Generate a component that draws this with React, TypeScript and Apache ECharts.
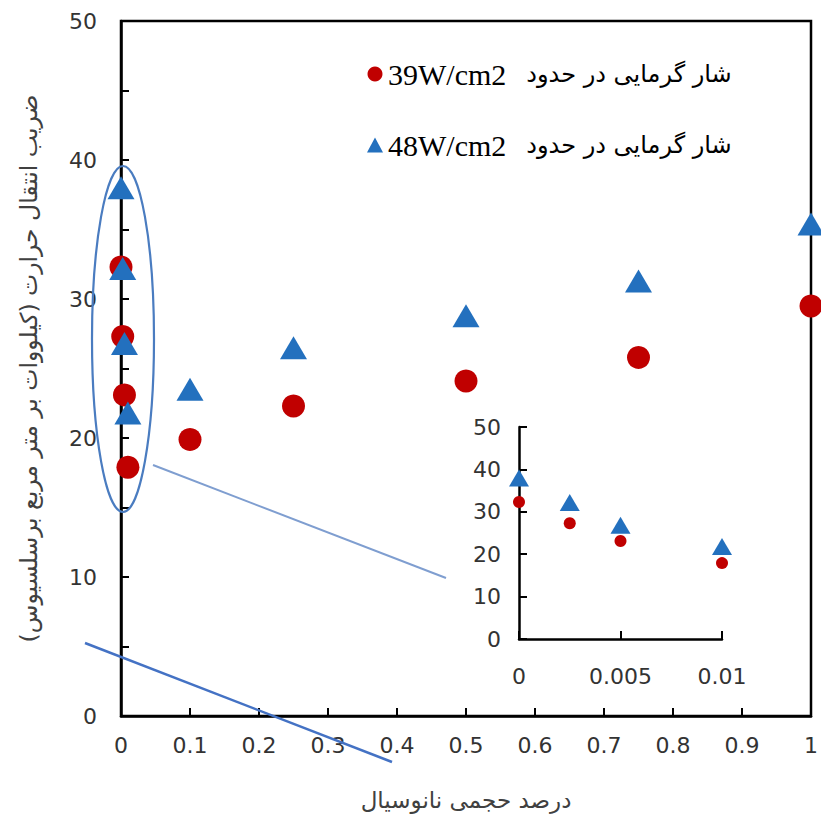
import React, { useEffect, useRef } from 'react';
import * as echarts from 'echarts';

// ---- data ----
const lowX = [0, 0.0025, 0.005, 0.01];
const highX = [0.1, 0.25, 0.5, 0.75, 1];
const flux39Low = [32.3, 27.3, 23.1, 17.9];
const flux39High = [19.9, 22.3, 24.1, 25.8, 29.5];
const flux48Low = [38.0, 32.2, 26.8, 21.8];
const flux48High = [23.5, 26.5, 28.8, 31.3, 35.4];
const fluxValues = ['39W/cm2', '48W/cm2'];
const fluxText = 'شار گرمایی در حدود';
const seriesNames = fluxValues.map((v) => v + '  ' + fluxText);
const yTitle = 'ضریب انتقال حرارت (کیلووات بر متر مربع برسلسیوس)\u200F';
const xTitle = 'درصد حجمی نانوسیال';

const RED = '#C00000';
const BLUE = '#2370BE';
const LABEL = '#333333';

function pairs(xs: number[], ys: number[]) {
  return xs.map((x, i) => [x, ys[i]]);
}

export default function App() {
  const ref = useRef<HTMLDivElement>(null);
  useEffect(() => {
    if (!ref.current) return;
    const chart = echarts.init(ref.current, null, { renderer: 'svg' });
    const tickLabel = { color: LABEL, fontFamily: 'DejaVu Sans', fontSize: 22 };
    chart.setOption({
      animation: false,
      backgroundColor: '#ffffff',
      legend: {
        orient: 'vertical',
        left: 362,
        top: 54,
        itemGap: 41,
        itemWidth: 16,
        itemHeight: 15,
        formatter: (name: string) => {
          const i = seriesNames.indexOf(name);
          return '{a|' + fluxValues[i] + '}{b|' + fluxText + '}';
        },
        textStyle: {
          color: '#000',
          rich: {
            a: { fontFamily: 'Liberation Serif', fontSize: 30, color: '#000', padding: [0, 20, 0, 0] },
            b: { fontFamily: 'DejaVu Sans', fontSize: 24, color: '#000' },
          },
        },
        data: [
          { name: seriesNames[0], icon: 'circle' },
          { name: seriesNames[1], icon: 'triangle' },
        ],
      },
      grid: [
        { left: 121, top: 21, right: 8, bottom: 103, show: true, borderColor: '#000', borderWidth: 2.5, backgroundColor: 'transparent' },
        { left: 519, top: 427, width: 203, height: 212 },
      ],
      xAxis: [
        {
          type: 'value', gridIndex: 0, min: 0, max: 1, interval: 0.1,
          name: xTitle, nameLocation: 'middle', nameGap: 72,
          nameTextStyle: { color: '#404040', fontFamily: 'DejaVu Sans', fontSize: 23 },
          axisLine: { lineStyle: { color: '#000', width: 2.5 } },
          axisTick: { inside: true, length: 8, lineStyle: { color: '#000', width: 2 } },
          axisLabel: { ...tickLabel, margin: 18 },
          splitLine: { show: false },
        },
        {
          type: 'value', gridIndex: 1, min: 0, max: 0.01, interval: 0.005,
          axisLine: { lineStyle: { color: '#000', width: 2.5 } },
          axisTick: { inside: true, length: 8, lineStyle: { color: '#000', width: 2 } },
          axisLabel: { ...tickLabel, margin: 26 },
          splitLine: { show: false },
        },
      ],
      yAxis: [
        {
          type: 'value', gridIndex: 0, min: 0, max: 50, interval: 5,
          name: yTitle, nameLocation: 'middle', nameGap: 80, nameRotate: 90,
          nameTextStyle: { color: '#404040', fontFamily: 'DejaVu Sans', fontSize: 23.5 },
          axisLine: { lineStyle: { color: '#000', width: 2.5 } },
          axisTick: { inside: true, length: 8, lineStyle: { color: '#000', width: 2 } },
          axisLabel: { ...tickLabel, margin: 24, formatter: (v: number) => (v % 10 === 0 ? String(v) : '') },
          splitLine: { show: false },
        },
        {
          type: 'value', gridIndex: 1, min: 0, max: 50, interval: 10,
          axisLine: { lineStyle: { color: '#000', width: 2.5 } },
          axisTick: { inside: true, length: 8, lineStyle: { color: '#000', width: 2 } },
          axisLabel: { ...tickLabel, margin: 18 },
          splitLine: { show: false },
        },
      ],
      series: [
        {
          name: seriesNames[0], type: 'scatter', xAxisIndex: 0, yAxisIndex: 0,
          symbol: 'circle', symbolSize: 23, itemStyle: { color: RED, opacity: 1 },
          data: pairs([...lowX, ...highX], [...flux39Low, ...flux39High]),
        },
        {
          name: seriesNames[1], type: 'scatter', xAxisIndex: 0, yAxisIndex: 0,
          symbol: 'triangle', symbolSize: [27, 23], itemStyle: { color: BLUE, opacity: 1 },
          data: pairs([...lowX, ...highX], [...flux48Low, ...flux48High]),
        },
        {
          name: seriesNames[0], type: 'scatter', xAxisIndex: 1, yAxisIndex: 1,
          symbol: 'circle', symbolSize: 12, itemStyle: { color: RED, opacity: 1 },
          data: pairs(lowX, flux39Low),
        },
        {
          name: seriesNames[1], type: 'scatter', xAxisIndex: 1, yAxisIndex: 1,
          symbol: 'triangle', symbolSize: [20, 17], itemStyle: { color: BLUE, opacity: 1 },
          data: pairs(lowX, flux48Low),
        },
      ],
      graphic: [
        {
          type: 'ellipse', z: 100,
          shape: { cx: 123, cy: 339, rx: 31, ry: 173 },
          style: { fill: 'none', stroke: '#4A7CC0', lineWidth: 2.2 },
        },
        {
          type: 'line', z: 100,
          shape: { x1: 153, y1: 465, x2: 446, y2: 578 },
          style: { stroke: '#7F9ED0', lineWidth: 2 },
        },
        {
          type: 'line', z: 100,
          shape: { x1: 85, y1: 643, x2: 392, y2: 762 },
          style: { stroke: '#4472C4', lineWidth: 2.5 },
        },
      ],
    });
    return () => chart.dispose();
  }, []);
  return <div ref={ref} style={{ width: 821, height: 819, position: 'absolute', left: 0, top: 0 }} />;
}
